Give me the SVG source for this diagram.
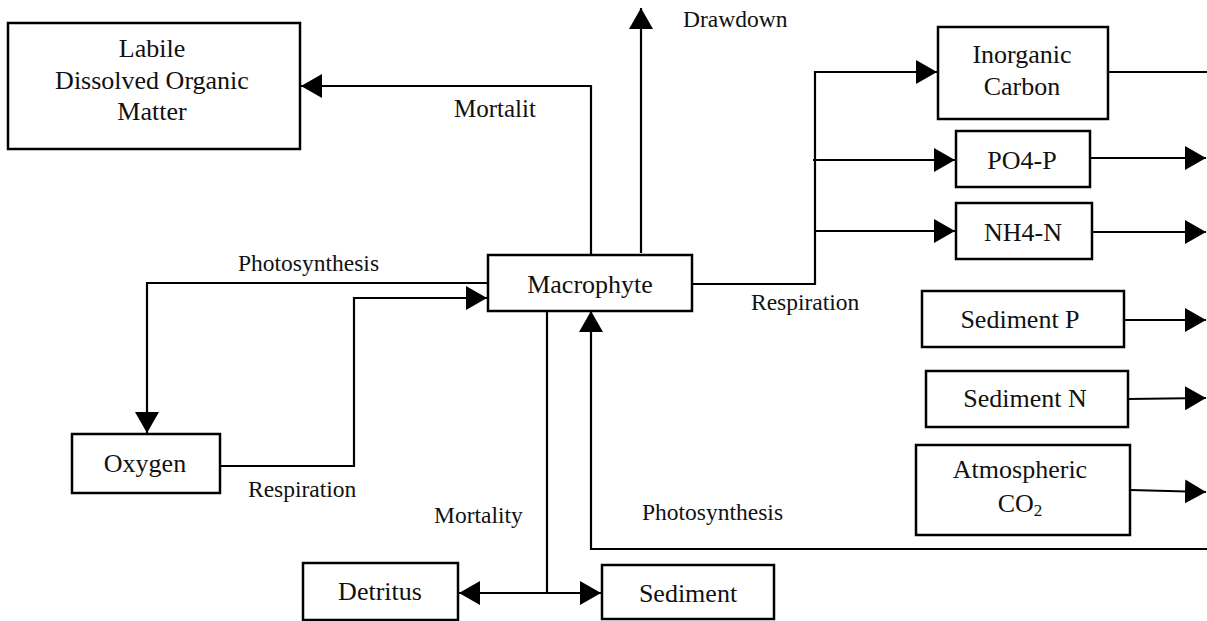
<svg xmlns="http://www.w3.org/2000/svg" width="1207" height="621" viewBox="0 0 1207 621">
<style>
.box{fill:#fff;stroke:#000;stroke-width:2.5}
.nt{font-family:"Liberation Serif","Times New Roman",serif;font-size:26px;fill:#111;text-anchor:middle}
.lb{font-family:"Liberation Serif","Times New Roman",serif;font-size:23.5px;fill:#111}
.c{fill:none;stroke:#000;stroke-width:2.2}
</style>
<defs>
<marker id="ah" markerUnits="userSpaceOnUse" markerWidth="22" markerHeight="24" refX="21" refY="12" orient="auto">
<path d="M0,0 L21,12 L0,24 z" fill="#000"/>
</marker>
</defs>
<g id="connectors">
<polyline class="c" points="591,254 591,86 301,86" marker-end="url(#ah)"/>
<line class="c" x1="641" y1="253" x2="641" y2="8" marker-end="url(#ah)"/>
<polyline class="c" points="692,284 815,284 815,72 937,72" marker-end="url(#ah)"/>
<line class="c" x1="1108" y1="72" x2="1207" y2="72"/>
<line class="c" x1="813" y1="160" x2="955" y2="160" marker-end="url(#ah)"/>
<line class="c" x1="1090" y1="158" x2="1206" y2="158" marker-end="url(#ah)"/>
<line class="c" x1="815" y1="231" x2="955" y2="231" marker-end="url(#ah)"/>
<line class="c" x1="1092" y1="232" x2="1206" y2="232" marker-end="url(#ah)"/>
<line class="c" x1="1124" y1="320" x2="1206" y2="320" marker-end="url(#ah)"/>
<line class="c" x1="1128" y1="399" x2="1206" y2="398" marker-end="url(#ah)"/>
<line class="c" x1="1130" y1="490" x2="1206" y2="492" marker-end="url(#ah)"/>
<polyline class="c" points="1207,549 591,549 591,311" marker-end="url(#ah)"/>
<polyline class="c" points="488,283 147,283 147,433" marker-end="url(#ah)"/>
<polyline class="c" points="220,466 354,466 354,298 487,298" marker-end="url(#ah)"/>
<line class="c" x1="547" y1="311" x2="547" y2="593"/>
<line class="c" x1="547" y1="593" x2="459" y2="593" marker-end="url(#ah)"/>
<line class="c" x1="547" y1="593" x2="601" y2="593" marker-end="url(#ah)"/>
</g>
<g id="labels">
<text class="lb" x="454" y="117" style="font-size:25px">Mortalit</text>
<text class="lb" x="683" y="27">Drawdown</text>
<text class="lb" x="751" y="310">Respiration</text>
<text class="lb" x="238" y="271">Photosynthesis</text>
<text class="lb" x="248" y="497">Respiration</text>
<text class="lb" x="434" y="523">Mortality</text>
<text class="lb" x="642" y="520">Photosynthesis</text>
</g>
<g id="labile-dom">
<rect class="box" x="8" y="23" width="292" height="126"/>
<text class="nt" x="152" y="57">Labile</text>
<text class="nt" x="152" y="89">Dissolved Organic</text>
<text class="nt" x="152" y="120">Matter</text>
</g>
<g id="macrophyte">
<rect class="box" x="488" y="255" width="204" height="56"/>
<text class="nt" x="590" y="293">Macrophyte</text>
</g>
<g id="inorganic-carbon">
<rect class="box" x="938" y="27" width="170" height="92"/>
<text class="nt" x="1022" y="63">Inorganic</text>
<text class="nt" x="1022" y="95">Carbon</text>
</g>
<g id="po4-p">
<rect class="box" x="956" y="131" width="134" height="56"/>
<text class="nt" x="1022" y="169">PO4-P</text>
</g>
<g id="nh4-n">
<rect class="box" x="956" y="203" width="136" height="56"/>
<text class="nt" x="1023" y="241">NH4-N</text>
</g>
<g id="sediment-p">
<rect class="box" x="922" y="291" width="202" height="56"/>
<text class="nt" x="1020" y="328">Sediment P</text>
</g>
<g id="sediment-n">
<rect class="box" x="926" y="371" width="202" height="56"/>
<text class="nt" x="1025" y="407">Sediment N</text>
</g>
<g id="atmospheric-co2">
<rect class="box" x="916" y="445" width="214" height="90"/>
<text class="nt" x="1020" y="478">Atmospheric</text>
<text class="nt" x="1020" y="512">CO<tspan font-size="17" dy="4">2</tspan></text>
</g>
<g id="oxygen">
<rect class="box" x="72" y="434" width="148" height="59"/>
<text class="nt" x="145" y="472">Oxygen</text>
</g>
<g id="detritus">
<rect class="box" x="303" y="563" width="155" height="57"/>
<text class="nt" x="380" y="600">Detritus</text>
</g>
<g id="sediment">
<rect class="box" x="602" y="565" width="172" height="54"/>
<text class="nt" x="688" y="602">Sediment</text>
</g>
</svg>
